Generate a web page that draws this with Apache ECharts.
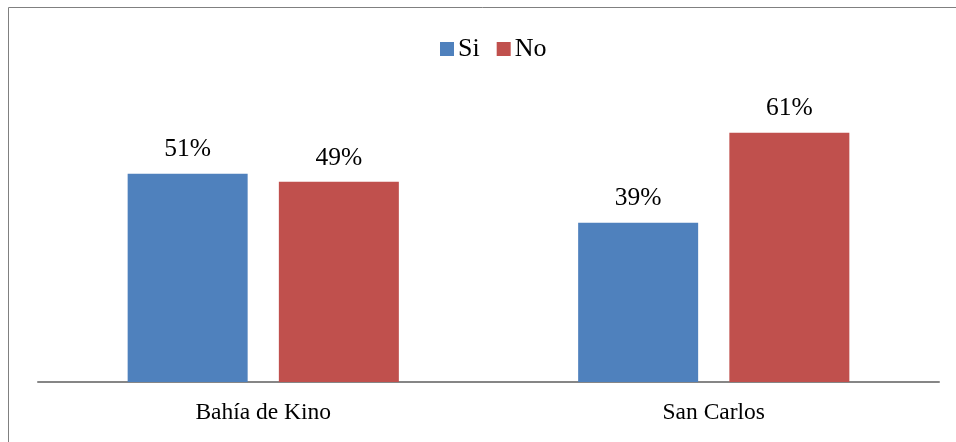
<!DOCTYPE html>
<html><head><meta charset="utf-8">
<script src="https://cdn.jsdelivr.net/npm/echarts@6/dist/echarts.min.js"></script>
<style>html,body{margin:0;padding:0;background:#fff}#c{width:956px;height:442px}</style>
</head><body><div id="c"></div>
<script>
const categories = ['Bahía de Kino', 'San Carlos'];
const siValues = [51, 39];
const noValues = [49, 61];
const chart = echarts.init(document.getElementById('c'));
const font = '"Liberation Serif", "Times New Roman", serif';
chart.setOption({
  animation: false,
  textStyle: {fontFamily: font},
  graphic: [{type: 'rect', shape: {x: 8.5, y: 7.5, width: 960, height: 450}, style: {fill: 'none', stroke: '#808080', lineWidth: 1}}],
  legend: {top: 31, left: 435, itemWidth: 14, itemHeight: 14, itemGap: 17,
    textStyle: {fontFamily: font, fontSize: 26, color: '#000', padding: [0, 0, 0, -1]}, icon: 'rect',
    data: ['Si', 'No']},
  grid: {left: 38, right: 17, top: 96, bottom: 60},
  xAxis: {type: 'category', data: categories,
    axisLine: {lineStyle: {color: '#868686', width: 2}}, axisTick: {show: false},
    axisLabel: {fontFamily: font, fontSize: 23.5, color: '#000', margin: 19}},
  yAxis: {type: 'value', min: 0, max: 70, show: false, splitLine: {show: false}},
  series: [
    {name: 'Si', type: 'bar', data: siValues, barWidth: 120, barGap: '26%',
     itemStyle: {color: '#4f81bd'},
     label: {show: true, position: 'top', distance: 11, formatter: '{c}%', fontFamily: font, fontSize: 25.5, color: '#000'}},
    {name: 'No', type: 'bar', data: noValues, barWidth: 120,
     itemStyle: {color: '#c0504d'},
     label: {show: true, position: 'top', distance: 11, formatter: '{c}%', fontFamily: font, fontSize: 25.5, color: '#000'}}
  ]
});
</script></body></html>
